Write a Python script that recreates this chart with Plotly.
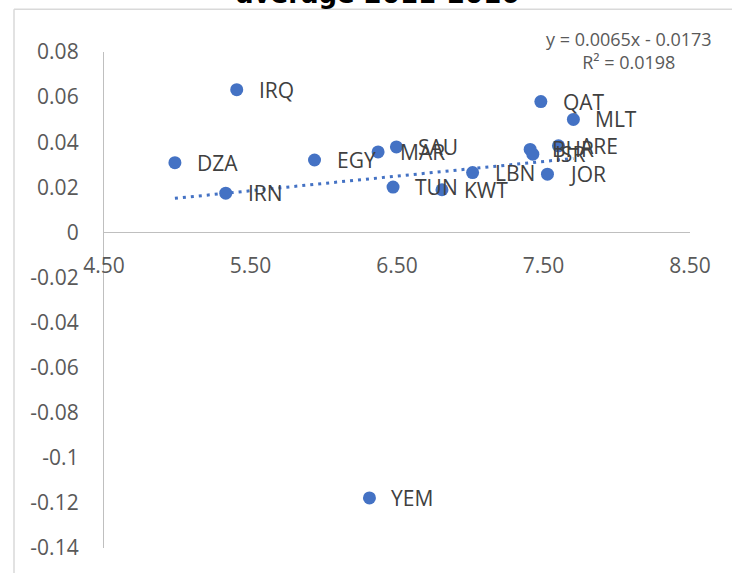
import plotly.graph_objects as go

# ---- data ----
countries = ["IRQ", "DZA", "IRN", "EGY", "MAR", "SAU", "TUN", "KWT", "LBN",
             "QAT", "MLT", "BHR", "ISR", "ARE", "JOR", "YEM"]
x_vals = [5.406, 4.984, 5.331, 5.937, 6.371, 6.496, 6.473, 6.807, 7.016,
          7.482, 7.704, 7.409, 7.427, 7.602, 7.527, 6.312]
y_vals = [0.0633, 0.0309, 0.0174, 0.0321, 0.0357, 0.0379, 0.0201, 0.0189, 0.0265,
          0.0580, 0.0501, 0.0368, 0.0347, 0.0384, 0.0258, -0.1178]

trend_slope = 0.0065
trend_intercept = -0.0173
trend_r2 = 0.0198

x_tickvals = [4.5, 5.5, 6.5, 7.5, 8.5]
x_ticktext = ["4.50", "5.50", "6.50", "7.50", "8.50"]
y_tickvals = [0.08, 0.06, 0.04, 0.02, 0, -0.02, -0.04, -0.06, -0.08, -0.10, -0.12, -0.14]
y_ticktext = ["0.08", "0.06", "0.04", "0.02", "0", "-0.02", "-0.04", "-0.06",
              "-0.08", "-0.1", "-0.12", "-0.14"]
title_text = "average 2011-2016"

# ---- layout constants ----
W, H = 732, 573
ML, MR, MT, MB = 104, 42, 52, 21
XR = [4.5, 8.5]
YR = [-0.14, 0.08]
BLUE = "#4472C4"
GREY = "#595959"
FONT = "Open Sans"

plot_w = W - ML - MR
plot_h = H - MT - MB

def px_to_paper_x(px):
    return (px - ML) / plot_w

def px_to_paper_y(py):
    return (H - MB - py) / plot_h

fig = go.Figure()

# trendline over the data x-extent
tx = [min(x_vals), max(x_vals)]
ty = [trend_slope * v + trend_intercept for v in tx]
fig.add_trace(go.Scatter(
    x=tx, y=ty, mode="lines",
    line=dict(color=BLUE, width=3, dash="3px,5px"),
    hoverinfo="skip", showlegend=False))

fig.add_trace(go.Scatter(
    x=x_vals, y=y_vals, mode="markers",
    marker=dict(color=BLUE, size=13),
    text=countries, showlegend=False))

annotations = []
for c, xv, yv in zip(countries, x_vals, y_vals):
    annotations.append(dict(
        x=xv, y=yv, xref="x", yref="y", text=c, showarrow=False,
        xanchor="left", yanchor="middle", xshift=20,
        font=dict(family=FONT, size=21, color="#404040")))

annotations.append(dict(
    x=px_to_paper_x(629), y=px_to_paper_y(50.5), xref="paper", yref="paper",
    text=f"y = {trend_slope}x - {abs(trend_intercept)}<br>R² = {trend_r2}",
    showarrow=False, xanchor="center", yanchor="middle", align="center",
    font=dict(family=FONT, size=18, color=GREY)))

annotations.append(dict(
    x=px_to_paper_x(377.5), y=px_to_paper_y(11), xref="paper", yref="paper",
    text=f"<b>{title_text}</b>", showarrow=False,
    xanchor="center", yanchor="bottom",
    font=dict(family="DejaVu Sans", size=26, color="#000000")))

shapes = [
    # chart area border (top and left)
    dict(type="line", xref="paper", yref="paper",
         x0=px_to_paper_x(14), x1=px_to_paper_x(W + 5),
         y0=px_to_paper_y(9), y1=px_to_paper_y(9),
         line=dict(color="#d9d9d9", width=1.5)),
    dict(type="line", xref="paper", yref="paper",
         x0=px_to_paper_x(14), x1=px_to_paper_x(14),
         y0=px_to_paper_y(9), y1=px_to_paper_y(H + 5),
         line=dict(color="#d9d9d9", width=1.5)),
]

fig.update_layout(
    width=W, height=H,
    margin=dict(l=ML, r=MR, t=MT, b=MB, pad=0),
    paper_bgcolor="white", plot_bgcolor="white",
    showlegend=False,
    annotations=annotations,
    shapes=shapes,
    xaxis=dict(
        range=XR, tickvals=x_tickvals, ticktext=x_ticktext,
        showgrid=False, zeroline=False, showline=True,
        linecolor="#bfbfbf", linewidth=1.3,
        anchor="free", position=(0 - YR[0]) / (YR[1] - YR[0]),
        ticks="", ticklabelstandoff=14,
        tickfont=dict(family=FONT, size=21, color=GREY)),
    yaxis=dict(
        range=YR, tickvals=y_tickvals, ticktext=y_ticktext,
        showgrid=False, zeroline=False, showline=True,
        linecolor="#bfbfbf", linewidth=1.3,
        ticks="", ticklabelstandoff=20,
        tickfont=dict(family=FONT, size=21, color=GREY)),
)

fig.write_html("out.html")
